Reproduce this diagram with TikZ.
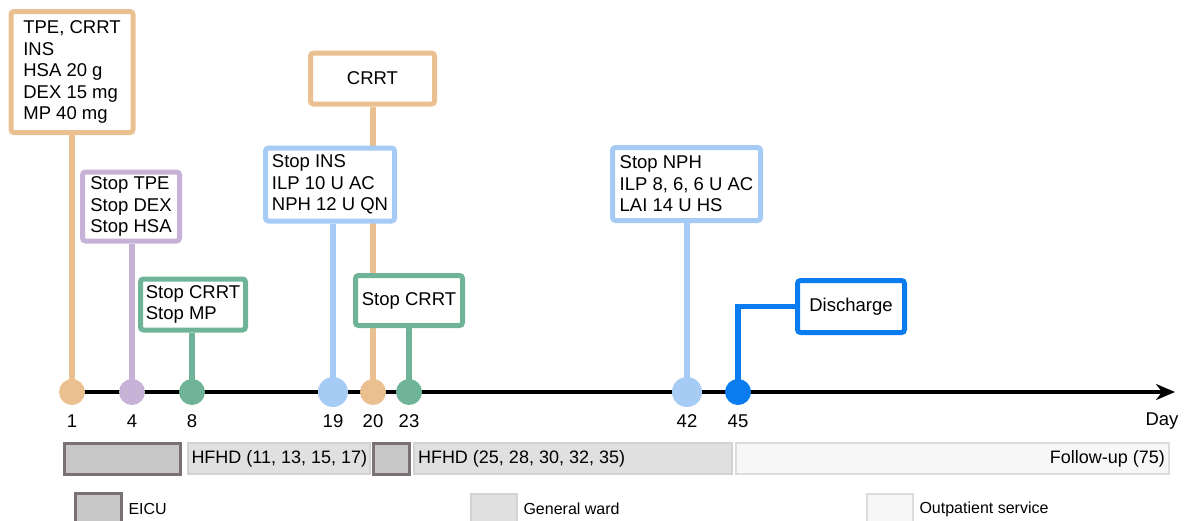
\documentclass[tikz,border=0pt]{standalone}
\usepackage{fontspec}
\setmainfont{Liberation Sans}
\usetikzlibrary{arrows.meta,backgrounds}
\definecolor{cOr}{RGB}{235,192,145}
\definecolor{cPu}{RGB}{198,178,214}
\definecolor{cGr}{RGB}{111,180,152}
\definecolor{cLb}{RGB}{166,203,245}
\definecolor{cBl}{RGB}{10,124,240}
\definecolor{eicuF}{RGB}{200,200,200}
\definecolor{eicuB}{RGB}{122,114,114}
\definecolor{wardF}{RGB}{224,224,224}
\definecolor{wardB}{RGB}{210,210,210}
\definecolor{outF}{RGB}{247,247,247}
\definecolor{outB}{RGB}{220,220,220}
\begin{document}
\begin{tikzpicture}[x=1pt,y=-1pt,
  box/.style={draw, line width=5pt, fill=white, rounded corners=3pt, inner sep=0pt, align=left, font=\fontsize{18.5}{21.5}\selectfont},
  link/.style={line width=5.5pt},
  dot/.style={circle, inner sep=0pt, minimum size=26pt},
  daylbl/.style={font=\fontsize{18.5}{21}\selectfont},
  bar/.style={inner xsep=0pt, inner ysep=0pt, minimum height=31pt, font=\fontsize{18}{21}\selectfont},
  eicu/.style={bar, draw=eicuB, fill=eicuF, line width=3pt},
  ward/.style={bar, draw=wardB, fill=wardF, line width=2pt},
  outp/.style={bar, draw=outB, fill=outF, line width=2pt},
  legsq/.style={minimum width=46pt, minimum height=29pt, inner sep=0pt},
  legtxt/.style={font=\fontsize{16}{18}\selectfont, anchor=west}
]
\useasboundingbox (0,0) rectangle (1190,520);

% event boxes
\node[box, draw=cOr, minimum width=122pt, minimum height=121pt] (b1) at (72,72) {TPE, CRRT\\INS\\HSA 20 g\\DEX 15 mg\\MP 40 mg};
\node[box, draw=cPu, minimum width=97pt, minimum height=69pt] (b2) at (131,206.5) {Stop TPE\\Stop DEX\\Stop HSA};
\node[box, draw=cGr, minimum width=105pt, minimum height=51pt] (b3) at (193,304.5) {Stop CRRT\\Stop MP};
\node[box, draw=cOr, minimum width=124pt, minimum height=51pt] (b4) at (372.5,78.5) {CRRT};
\node[box, draw=cLb, minimum width=129pt, minimum height=73pt] (b5) at (330,184.5) {Stop INS\\ILP 10 U AC\\NPH 12 U QN};
\node[box, draw=cGr, minimum width=107pt, minimum height=50pt] (b6) at (409,300.5) {Stop CRRT};
\node[box, draw=cLb, minimum width=148pt, minimum height=73pt] (b7) at (686.5,184) {Stop NPH\\ILP 8, 6, 6 U AC\\LAI 14 U HS};
\node[box, draw=cBl, minimum width=107pt, minimum height=52pt] (b8) at (851,306.5) {Discharge};

% timeline dots
\node[dot, fill=cOr] (d1) at (72,392) {};
\node[dot, fill=cPu] (d4) at (132,392) {};
\node[dot, fill=cGr] (d8) at (192,392) {};
\node[dot, fill=cLb, minimum size=30pt] (d19) at (333,392) {};
\node[dot, fill=cOr] (d20) at (373,392) {};
\node[dot, fill=cGr] (d23) at (409,392) {};
\node[dot, fill=cLb, minimum size=30pt] (d42) at (687,392) {};
\node[dot, fill=cBl] (d45) at (738,392) {};

% day labels
\node[daylbl] (l1) at (72,421) {1};
\node[daylbl] (l4) at (132,421) {4};
\node[daylbl] (l8) at (192,421) {8};
\node[daylbl] (l19) at (333,421) {19};
\node[daylbl] (l20) at (373,421) {20};
\node[daylbl] (l23) at (409,421) {23};
\node[daylbl] (l42) at (687,421) {42};
\node[daylbl] (l45) at (738,421) {45};
\node[daylbl] (lday) at (1162,421) {Day};

\coordinate (ts) at (60,392);
\coordinate (te) at (1175,392);

\begin{scope}[on background layer]
  \draw[line width=4pt, -{Stealth[length=19pt,width=16pt]}] (ts) -- (te);
  \draw[link, cOr] (b1.south -| d1) -- (d1.center);
  \draw[link, cPu] (b2.south -| d4) -- (d4.center);
  \draw[link, cGr] (b3.south -| d8) -- (d8.center);
  \draw[link, cOr] (b4.south -| d20) -- (d20.center);
  \draw[link, cLb] (b5.south -| d19) -- (d19.center);
  \draw[link, cGr] (b6.south -| d23) -- (d23.center);
  \draw[link, cLb] (b7.south -| d42) -- (d42.center);
  \draw[link, cBl] (b8.west) -| (d45.center);
\end{scope}

% stay bars
\node[eicu, minimum width=116pt] (s1) at (122.5,458.5) {};
\node[ward, minimum width=182pt] (s2) at (278.5,458.5) {\makebox[174pt][l]{HFHD (11, 13, 15, 17)}};
\node[eicu, minimum width=36pt] (s3) at (391.5,458.5) {};
\node[ward, minimum width=318pt] (s4) at (573,458.5) {\makebox[310pt][l]{HFHD (25, 28, 30, 32, 35)}};
\node[outp, minimum width=433pt] (s5) at (952.5,458.5) {\makebox[425pt][r]{Follow-up (75)}};

% legend
\node[legsq, draw=eicuB, fill=eicuF, line width=3pt] (k1) at (98,508) {};
\node[legtxt] (t1) at (125,509) {EICU};
\node[legsq, draw=wardB, fill=wardF, line width=2pt] (k2) at (494,508) {};
\node[legtxt] (t2) at (520,509) {General ward};
\node[legsq, draw=outB, fill=outF, line width=2pt] (k3) at (890,508) {};
\node[legtxt] (t3) at (916,509) {Outpatient service};
\end{tikzpicture}
\end{document}
